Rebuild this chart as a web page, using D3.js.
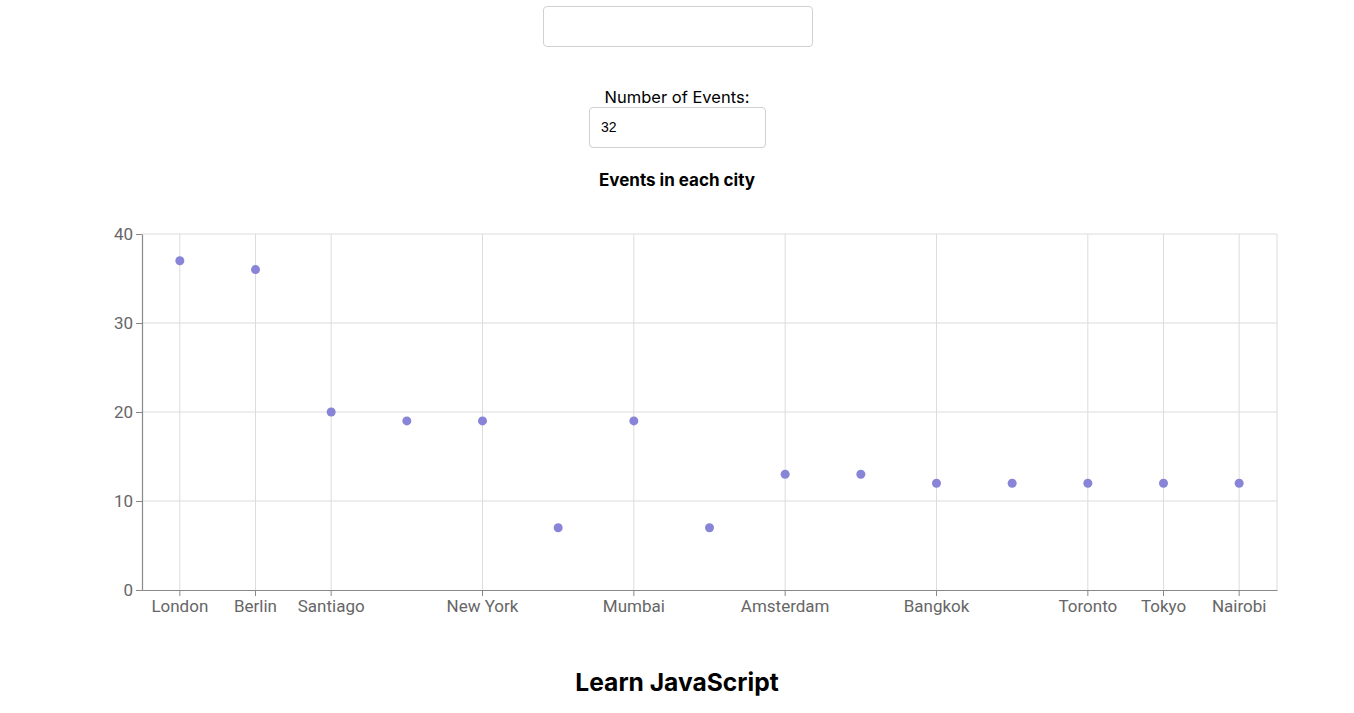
<!DOCTYPE html>
<html>
<head>
<meta charset="utf-8">
<script src="https://cdn.jsdelivr.net/npm/d3@7"></script>
<style>
  html, body { margin: 0; padding: 0; background: #fff; }
  body { width: 1354px; height: 713px; position: relative; overflow: hidden; font-family: Inter, "Liberation Sans", sans-serif; }
  .box { position: absolute; border: 1px solid #d0d0d0; border-radius: 4px; box-sizing: border-box; background: #fff; }
  .lbl { position: absolute; font-size: 16.5px; color: #000; text-align: center; }
  svg { position: absolute; left: 0; top: 0; }
</style>
</head>
<body>
<div class="box" style="left:543px;top:6px;width:270px;height:41px;"></div>
<div class="lbl" style="left:577px;top:87px;width:200px;">Number of Events:</div>
<div class="box" style="left:589px;top:107px;width:177px;height:41px;">
  <span style="position:absolute;left:11px;top:11px;font-size:14px;font-family:'Liberation Sans',Arial,sans-serif;">32</span>
</div>
<svg id="chart" width="1354" height="713"></svg>
<script>
const categories = ["London", "Berlin", "Santiago", "Paris", "New York", "Sydney", "Mumbai", "Singapore", "Amsterdam", "Los Angeles", "Bangkok", "Buenos Aires", "Toronto", "Tokyo", "Nairobi"];
const events = [37, 36, 20, 19, 19, 7, 19, 7, 13, 13, 12, 12, 12, 12, 12];
const shownTicks = ["London", "Berlin", "Santiago", "New York", "Mumbai", "Amsterdam", "Bangkok", "Toronto", "Tokyo", "Nairobi"];
const yTicks = [0, 10, 20, 30, 40];
const chartTitle = "Events in each city";
const footerTitle = "Learn JavaScript";

const svg = d3.select("#chart");
const m = { left: 142, right: 1277, top: 234, bottom: 590 };

const x = d3.scaleBand().domain(categories).range([m.left, m.right]).padding(0);
const y = d3.scaleLinear().domain([0, 40]).range([m.bottom, m.top]);
const cx = d => x(d) + x.bandwidth() / 2;

// Title
svg.append("text").attr("x", 677).attr("y", 186).attr("text-anchor", "middle")
  .attr("font-size", 17).attr("font-weight", 700).attr("fill", "#000")
  .style("font-family", "Inter, 'Liberation Sans', sans-serif").text(chartTitle);

// Grid
const grid = svg.append("g");
grid.selectAll("line.h").data(yTicks.filter(t => t > 0)).join("line")
  .attr("x1", m.left).attr("x2", m.right).attr("y1", d => y(d)).attr("y2", d => y(d))
  .attr("stroke", "#dcdcdc").attr("stroke-width", 1);
grid.selectAll("line.v").data(shownTicks).join("line")
  .attr("x1", d => cx(d)).attr("x2", d => cx(d)).attr("y1", m.top).attr("y2", m.bottom)
  .attr("stroke", "#dcdcdc").attr("stroke-width", 1);
grid.append("line").attr("x1", m.right).attr("x2", m.right).attr("y1", m.top).attr("y2", m.bottom)
  .attr("stroke", "#dcdcdc");

// Axes
const xAxis = d3.axisBottom(x).tickValues(shownTicks).tickSize(6).tickSizeOuter(0).tickPadding(4);
const gx = svg.append("g").attr("transform", `translate(0,${m.bottom})`).call(xAxis);
gx.select(".domain").attr("stroke", "#888").attr("stroke-width", 1.2);
gx.selectAll(".tick line").attr("stroke", "#888");
gx.selectAll(".tick text").attr("fill", "#666").attr("font-size", 17)
  .style("font-family", "Roboto, sans-serif");

const yAxis = d3.axisLeft(y).tickValues(yTicks).tickSize(6).tickPadding(3).tickSizeOuter(0);
const gy = svg.append("g").attr("transform", `translate(${m.left},0)`).call(yAxis);
gy.select(".domain").attr("stroke", "#888").attr("stroke-width", 1.2);
gy.selectAll(".tick line").attr("stroke", "#888");
gy.selectAll(".tick text").attr("fill", "#666").attr("font-size", 17)
  .style("font-family", "Roboto, sans-serif");

// Points
svg.append("g").selectAll("circle").data(categories.map((c, i) => ({ c, v: events[i] }))).join("circle")
  .attr("cx", d => cx(d.c)).attr("cy", d => y(d.v)).attr("r", 4.5)
  .attr("fill", "#8884d8");

// Footer
svg.append("text").attr("x", 677).attr("y", 691).attr("text-anchor", "middle")
  .attr("font-size", 24.6).attr("font-weight", 700).attr("fill", "#000")
  .style("font-family", "Inter, 'Liberation Sans', sans-serif").text(footerTitle);
</script>
</body>
</html>
